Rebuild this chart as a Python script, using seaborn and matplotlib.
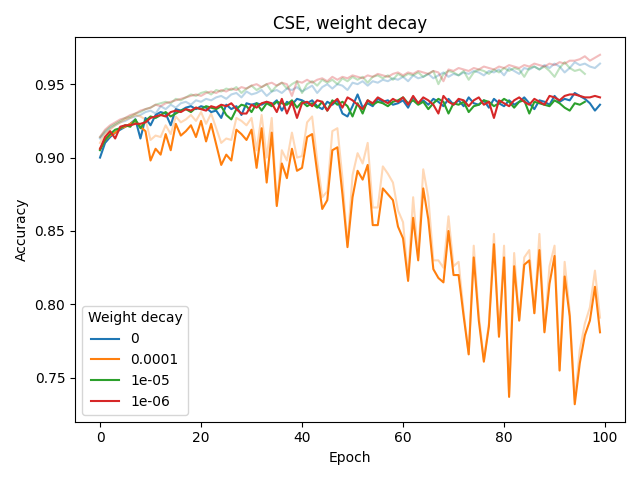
import numpy as np
import pandas as pd
import matplotlib
matplotlib.use("Agg")
import matplotlib.pyplot as plt
import seaborn as sns

# weight decay settings (legend labels)
decays = ["0", "0.0001", "1e-05", "1e-06"]

# test accuracy per epoch (solid lines)
test_0 = [0.900, 0.910, 0.914, 0.917, 0.919, 0.921, 0.923, 0.926, 0.913, 0.927,
          0.922, 0.929, 0.931, 0.930, 0.922, 0.933, 0.932, 0.934, 0.935, 0.933,
          0.935, 0.934, 0.931, 0.932, 0.927, 0.936, 0.933, 0.935, 0.929, 0.937,
          0.936, 0.937, 0.936, 0.938, 0.936, 0.939, 0.932, 0.938, 0.936, 0.940,
          0.939, 0.937, 0.939, 0.935, 0.933, 0.938, 0.936, 0.939, 0.930, 0.928,
          0.935, 0.943, 0.934, 0.937, 0.935, 0.940, 0.938, 0.939, 0.936, 0.937,
          0.939, 0.934, 0.941, 0.937, 0.939, 0.936, 0.940, 0.938, 0.935, 0.940,
          0.936, 0.939, 0.935, 0.941, 0.937, 0.936, 0.939, 0.934, 0.940, 0.937,
          0.935, 0.939, 0.936, 0.938, 0.941, 0.937, 0.933, 0.939, 0.938, 0.936,
          0.942, 0.938, 0.940, 0.939, 0.944, 0.942, 0.940, 0.937, 0.932, 0.936]
test_1e4 = [0.906, 0.912, 0.915, 0.917, 0.920, 0.921, 0.923, 0.925, 0.921, 0.918,
            0.898, 0.906, 0.902, 0.916, 0.905, 0.923, 0.915, 0.918, 0.922, 0.914,
            0.925, 0.911, 0.923, 0.909, 0.895, 0.902, 0.898, 0.919, 0.916, 0.912,
            0.919, 0.893, 0.920, 0.883, 0.917, 0.867, 0.896, 0.886, 0.906, 0.891,
            0.893, 0.914, 0.916, 0.890, 0.865, 0.871, 0.905, 0.907, 0.875, 0.839,
            0.873, 0.891, 0.885, 0.895, 0.854, 0.854, 0.879, 0.875, 0.871, 0.853,
            0.845, 0.816, 0.859, 0.830, 0.879, 0.858, 0.824, 0.818, 0.815, 0.850,
            0.820, 0.820, 0.792, 0.766, 0.832, 0.789, 0.761, 0.785, 0.841, 0.778,
            0.832, 0.737, 0.826, 0.789, 0.827, 0.830, 0.794, 0.837, 0.781, 0.814,
            0.833, 0.755, 0.819, 0.792, 0.732, 0.760, 0.779, 0.789, 0.812, 0.781]
test_1e5 = [0.905, 0.912, 0.916, 0.919, 0.920, 0.922, 0.921, 0.926, 0.920, 0.925,
            0.928, 0.927, 0.929, 0.931, 0.928, 0.930, 0.932, 0.933, 0.931, 0.934,
            0.933, 0.935, 0.934, 0.933, 0.935, 0.929, 0.926, 0.933, 0.936, 0.935,
            0.931, 0.937, 0.932, 0.937, 0.935, 0.938, 0.937, 0.936, 0.939, 0.934,
            0.938, 0.935, 0.937, 0.934, 0.938, 0.932, 0.939, 0.936, 0.938, 0.935,
            0.928, 0.937, 0.930, 0.939, 0.936, 0.938, 0.937, 0.935, 0.938, 0.939,
            0.941, 0.937, 0.939, 0.936, 0.938, 0.933, 0.937, 0.940, 0.938, 0.930,
            0.937, 0.936, 0.938, 0.931, 0.935, 0.936, 0.939, 0.938, 0.935, 0.937,
            0.940, 0.938, 0.934, 0.938, 0.939, 0.930, 0.938, 0.937, 0.936, 0.935,
            0.939, 0.937, 0.934, 0.932, 0.937, 0.936, 0.938]
test_1e6 = [0.906, 0.914, 0.918, 0.913, 0.921, 0.922, 0.922, 0.923, 0.923, 0.924,
            0.927, 0.928, 0.929, 0.928, 0.931, 0.932, 0.931, 0.933, 0.932, 0.934,
            0.933, 0.932, 0.935, 0.934, 0.936, 0.935, 0.937, 0.933, 0.930, 0.930,
            0.936, 0.934, 0.937, 0.938, 0.937, 0.931, 0.940, 0.930, 0.938, 0.927,
            0.937, 0.938, 0.935, 0.939, 0.938, 0.932, 0.937, 0.940, 0.934, 0.941,
            0.939, 0.936, 0.933, 0.939, 0.937, 0.941, 0.939, 0.937, 0.940, 0.938,
            0.941, 0.936, 0.942, 0.937, 0.941, 0.939, 0.936, 0.930, 0.942, 0.938,
            0.936, 0.940, 0.939, 0.935, 0.939, 0.941, 0.936, 0.938, 0.927, 0.939,
            0.937, 0.935, 0.939, 0.941, 0.938, 0.936, 0.940, 0.938, 0.936, 0.942,
            0.941, 0.939, 0.942, 0.943, 0.943, 0.942, 0.941, 0.941, 0.942, 0.941]

# train accuracy per epoch (faded lines)
train_0 = [0.913, 0.917, 0.920, 0.922, 0.924, 0.925, 0.927, 0.928, 0.929, 0.931,
           0.932, 0.930, 0.935, 0.933, 0.936, 0.934, 0.937, 0.938, 0.936, 0.939,
           0.938, 0.940, 0.939, 0.941, 0.942, 0.940, 0.943, 0.944, 0.941, 0.945,
           0.943, 0.944, 0.946, 0.942, 0.945, 0.946, 0.944, 0.947, 0.946, 0.948,
           0.945, 0.947, 0.949, 0.944, 0.948, 0.950, 0.947, 0.950, 0.949, 0.946,
           0.951, 0.950, 0.952, 0.949, 0.952, 0.951, 0.953, 0.952, 0.954, 0.953,
           0.955, 0.952, 0.956, 0.954, 0.955, 0.957, 0.954, 0.956, 0.958, 0.955,
           0.957, 0.956, 0.958, 0.957, 0.959, 0.958, 0.956, 0.959, 0.958, 0.960,
           0.956, 0.961, 0.959, 0.957, 0.961, 0.960, 0.962, 0.960, 0.963, 0.961,
           0.964, 0.962, 0.958, 0.961, 0.965, 0.963, 0.964, 0.962, 0.961, 0.964]
train_1e4 = [0.910, 0.916, 0.919, 0.922, 0.924, 0.926, 0.927, 0.929, 0.928, 0.926,
             0.912, 0.915, 0.914, 0.922, 0.916, 0.928, 0.924, 0.926, 0.929, 0.925,
             0.931, 0.923, 0.930, 0.920, 0.910, 0.913, 0.912, 0.927, 0.925, 0.922,
             0.927, 0.905, 0.929, 0.900, 0.927, 0.868, 0.905, 0.898, 0.917, 0.900,
             0.901, 0.924, 0.928, 0.898, 0.873, 0.877, 0.918, 0.920, 0.886, 0.840,
             0.888, 0.903, 0.896, 0.910, 0.866, 0.866, 0.894, 0.889, 0.883, 0.864,
             0.856, 0.818, 0.873, 0.832, 0.892, 0.873, 0.830, 0.830, 0.825, 0.860,
             0.826, 0.829, 0.795, 0.766, 0.840, 0.793, 0.762, 0.787, 0.848, 0.778,
             0.840, 0.738, 0.835, 0.789, 0.832, 0.837, 0.794, 0.848, 0.782, 0.826,
             0.840, 0.755, 0.829, 0.795, 0.735, 0.769, 0.787, 0.798, 0.823, 0.791]
train_1e5 = [0.914, 0.918, 0.921, 0.923, 0.925, 0.927, 0.928, 0.930, 0.931, 0.933,
             0.934, 0.936, 0.937, 0.938, 0.937, 0.940, 0.939, 0.941, 0.943, 0.942,
             0.944, 0.945, 0.943, 0.946, 0.945, 0.947, 0.946, 0.948, 0.944, 0.947,
             0.949, 0.946, 0.948, 0.950, 0.945, 0.949, 0.951, 0.947, 0.950, 0.952,
             0.944, 0.950, 0.952, 0.949, 0.953, 0.951, 0.953, 0.950, 0.954, 0.952,
             0.955, 0.953, 0.955, 0.951, 0.955, 0.956, 0.954, 0.956, 0.953, 0.957,
             0.955, 0.957, 0.956, 0.958, 0.955, 0.957, 0.959, 0.950, 0.957, 0.959,
             0.958, 0.956, 0.959, 0.953, 0.958, 0.960, 0.959, 0.957, 0.960, 0.958,
             0.961, 0.959, 0.961, 0.960, 0.955, 0.961, 0.962, 0.960, 0.962, 0.959,
             0.955, 0.961, 0.965, 0.961, 0.959, 0.960, 0.957]
train_1e6 = [0.914, 0.919, 0.922, 0.924, 0.926, 0.927, 0.929, 0.930, 0.932, 0.933,
             0.934, 0.936, 0.935, 0.937, 0.938, 0.939, 0.940, 0.941, 0.942, 0.943,
             0.942, 0.944, 0.945, 0.944, 0.946, 0.945, 0.947, 0.946, 0.948, 0.947,
             0.949, 0.950, 0.948, 0.950, 0.951, 0.949, 0.951, 0.950, 0.942, 0.952,
             0.951, 0.953, 0.951, 0.953, 0.954, 0.952, 0.955, 0.953, 0.955, 0.954,
             0.956, 0.955, 0.954, 0.956, 0.955, 0.957, 0.956, 0.955, 0.957, 0.958,
             0.956, 0.958, 0.957, 0.959, 0.958, 0.957, 0.959, 0.958, 0.952, 0.960,
             0.959, 0.961, 0.960, 0.959, 0.961, 0.960, 0.962, 0.961, 0.960, 0.962,
             0.961, 0.963, 0.962, 0.961, 0.963, 0.962, 0.964, 0.963, 0.962, 0.964,
             0.963, 0.965, 0.964, 0.966, 0.966, 0.967, 0.969, 0.966, 0.968, 0.970]

test_runs = [test_0, test_1e4, test_1e5, test_1e6]
train_runs = [train_0, train_1e4, train_1e5, train_1e6]


def to_long(runs):
    frames = []
    for wd, acc in zip(decays, runs):
        frames.append(pd.DataFrame({"Epoch": np.arange(len(acc)),
                                    "Accuracy": acc,
                                    "Weight decay": wd}))
    return pd.concat(frames, ignore_index=True)


test_df = to_long(test_runs)
train_df = to_long(train_runs)

palette = dict(zip(decays, sns.color_palette("tab10", 4)))

fig, ax = plt.subplots(figsize=(6.4, 4.8), dpi=100)
sns.lineplot(data=train_df, x="Epoch", y="Accuracy", hue="Weight decay",
             hue_order=decays, palette=palette, alpha=0.3, legend=False, ax=ax)
sns.lineplot(data=test_df, x="Epoch", y="Accuracy", hue="Weight decay",
             hue_order=decays, palette=palette, ax=ax)

ax.set_title("CSE, weight decay")
ax.legend(title="Weight decay", loc="lower left")
plt.tight_layout()
fig.savefig("out.png", dpi=100)
